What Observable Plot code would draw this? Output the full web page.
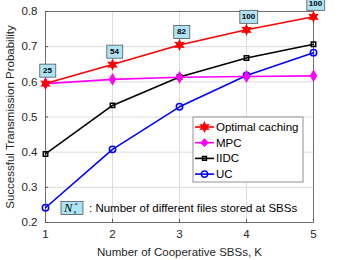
<!DOCTYPE html>
<html>
<head>
<meta charset="utf-8">
<script src="https://cdn.jsdelivr.net/npm/d3@7"></script>
<script src="https://cdn.jsdelivr.net/npm/@observablehq/plot@0.6"></script>
<style>
  html, body { margin: 0; padding: 0; background: #fff; }
  #chart { position: relative; width: 346px; height: 260px; }
  svg { font-family: "Liberation Sans", Arial, sans-serif; }
</style>
</head>
<body>
<div id="chart"></div>
<script>
// ---- data ----
const K = [1, 2, 3, 4, 5];
const optimalCaching = [0.595, 0.649, 0.705, 0.748, 0.785];
const mpc = [0.595, 0.607, 0.613, 0.615, 0.617];
const iidc = [0.395, 0.533, 0.614, 0.668, 0.707];
const uc = [0.242, 0.408, 0.529, 0.618, 0.683];
const nsLabels = ["25", "54", "82", "100", "100"];
const xTicks = [1, 2, 3, 4, 5];
const yTicks = [0.2, 0.3, 0.4, 0.5, 0.6, 0.7, 0.8];
const seriesNames = ["Optimal caching", "MPC", "IIDC", "UC"];

const hexagram = {
  draw(ctx, size) {
    const R = Math.sqrt(size / Math.PI) * 1.35, r = R * 0.5;
    for (let i = 0; i < 12; i++) {
      const a = -Math.PI / 2 + i * Math.PI / 6;
      const rr = i % 2 ? r : R;
      const px = rr * Math.cos(a), py = rr * Math.sin(a);
      i ? ctx.lineTo(px, py) : ctx.moveTo(px, py);
    }
    ctx.closePath();
  }
};

const mk = (vals) => K.map((k, i) => ({k, v: vals[i], lab: nsLabels[i]}));
const dOpt = mk(optimalCaching), dMpc = mk(mpc), dIidc = mk(iidc), dUc = mk(uc);

const series = [
  {name: seriesNames[0], data: dOpt, color: "#ff0000", symbol: hexagram, fill: "#ff0000", r: 3.2},
  {name: seriesNames[1], data: dMpc, color: "#ff00ff", symbol: "diamond", fill: "#ff00ff", r: 3},
  {name: seriesNames[2], data: dIidc, color: "#000000", symbol: "square", fill: "none", r: 2.5},
  {name: seriesNames[3], data: dUc, color: "#0000ff", symbol: "circle", fill: "none", r: 3.2}
];

const marks = [
  Plot.gridX(xTicks, {stroke: "#dcdcdc", strokeOpacity: 1}),
  Plot.gridY(yTicks, {stroke: "#dcdcdc", strokeOpacity: 1}),
  Plot.frame({stroke: "#555", strokeWidth: 0.8}),
  Plot.axisX(xTicks, {tickSize: -3, tickPadding: 10, fontSize: 11.5, stroke: "#555", color: "#262626",
    label: "Number of Cooperative SBSs, K", labelAnchor: "center", labelOffset: 33, labelArrow: "none"}),
  Plot.axisY(yTicks, {tickSize: -3, tickPadding: 11, fontSize: 11.5, stroke: "#555", color: "#262626", tickFormat: d3.format(".1f"),
    label: "Successful Transmission Probability", labelAnchor: "center", labelOffset: 40, labelArrow: "none"})
];
for (const s of series.slice().reverse()) {
  marks.push(Plot.line(s.data, {x: "k", y: "v", stroke: s.color, strokeWidth: 1.6}));
  marks.push(Plot.dot(s.data, {x: "k", y: "v", symbol: s.symbol, r: s.r, stroke: s.color, fill: s.fill, strokeWidth: 1.5}));
}
marks.push(Plot.text(dOpt, {x: "k", y: "v", text: "lab", dy: -13, dx: 2, fontSize: 8, fontWeight: "bold", fill: "#000"}));

const chart = Plot.plot({
  width: 346, height: 260,
  marginLeft: 45, marginRight: 33, marginTop: 11, marginBottom: 38,
  style: {fontFamily: "Liberation Sans, Arial, sans-serif", fontSize: "13px", color: "#262626", background: "#fff", overflow: "visible"},
  x: {domain: [1, 5]},
  y: {domain: [0.2, 0.8]},
  marks
});
document.getElementById("chart").appendChild(chart);

const svg = d3.select(chart);
// label boxes behind annotation numbers
const annoTexts = svg.selectAll("text").filter(function () {
  return nsLabels.includes(this.textContent.trim());
});
const boxes = [];
annoTexts.each(function () { boxes.push(this); });
boxes.forEach((el) => {
  const b = el.getBBox();
  const w = Math.max(b.width + 4, 16), h = 13;
  const cx = b.x + b.width / 2, cy = b.y + b.height / 2;
  const rect = document.createElementNS("http://www.w3.org/2000/svg", "rect");
  rect.setAttribute("x", cx - w / 2); rect.setAttribute("y", cy - h / 2);
  rect.setAttribute("width", w); rect.setAttribute("height", h);
  rect.setAttribute("fill", "#aee3f6"); rect.setAttribute("stroke", "#555"); rect.setAttribute("stroke-width", 0.8);
  const tr = el.getAttribute("transform");
  if (tr) rect.setAttribute("transform", tr);
  el.parentNode.insertBefore(rect, el);
});

// legend
const lg = svg.append("g").attr("font-size", 11.5).attr("fill", "#000").attr("text-anchor", "start");
lg.append("rect").attr("x", 193).attr("y", 117).attr("width", 110).attr("height", 65)
  .attr("fill", "#fff").attr("stroke", "#777").attr("stroke-width", 0.8);
series.forEach((s, i) => {
  const y = 127 + i * 15.7;
  lg.append("line").attr("x1", 195).attr("x2", 214).attr("y1", y).attr("y2", y)
    .attr("stroke", s.color).attr("stroke-width", 1.6);
  const sym = typeof s.symbol === "string"
    ? {diamond: d3.symbolDiamond2, square: d3.symbolSquare2, circle: d3.symbolCircle}[s.symbol] : s.symbol;
  lg.append("path").attr("transform", `translate(204.5,${y})`)
    .attr("d", d3.symbol(sym, Math.PI * s.r * s.r)())
    .attr("fill", s.fill).attr("stroke", s.color).attr("stroke-width", 1.5);
  lg.append("text").attr("x", 216).attr("y", y).attr("dy", "0.35em").text(s.name);
});

// N_s* note
const note = svg.append("g").attr("text-anchor", "start").attr("fill", "#000")
  .attr("font-family", "Liberation Serif, Times New Roman, serif").attr("font-style", "italic");
note.append("rect").attr("x", 61).attr("y", 201.5).attr("width", 22).attr("height", 13)
  .attr("fill", "#aee3f6").attr("stroke", "#555").attr("stroke-width", 0.8);
note.append("text").attr("x", 64).attr("y", 211.5).attr("font-size", 12.5).text("N");
note.append("text").attr("x", 73.5).attr("y", 213.5).attr("font-size", 7).text("s");
note.append("text").attr("x", 74).attr("y", 206.5).attr("font-size", 7).text("*");
note.append("text").attr("x", 89).attr("y", 212).attr("font-size", 11.5)
  .attr("font-family", "Liberation Sans, Arial, sans-serif").attr("font-style", "normal")
  .text(": Number of different files stored at SBSs");
</script>
</body>
</html>
